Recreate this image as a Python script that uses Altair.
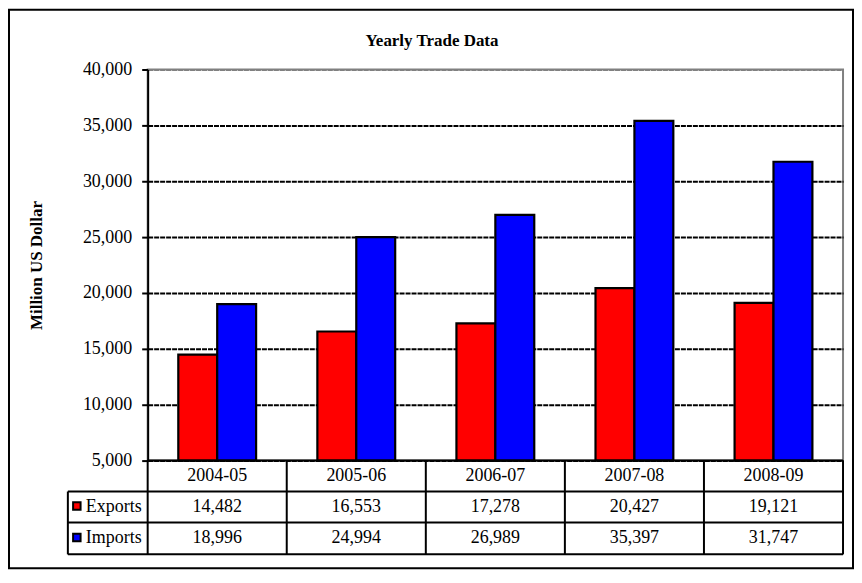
import altair as alt
import pandas as pd

# ---- data ----
categories = ["2004-05", "2005-06", "2006-07", "2007-08", "2008-09"]
exports = [14482, 16553, 17278, 20427, 19121]
imports = [18996, 24994, 26989, 35397, 31747]
series_names = ["Exports", "Imports"]
series_colors = ["#FF0000", "#0000FF"]
y_ticks = [5000, 10000, 15000, 20000, 25000, 30000, 35000, 40000]
chart_title = "Yearly Trade Data"
y_title = "Million US Dollar"

rows = []
for i, c in enumerate(categories):
    rows.append({"cat": c, "series": "Exports", "value": exports[i]})
    rows.append({"cat": c, "series": "Imports", "value": imports[i]})
df = pd.DataFrame(rows)
labels_df = pd.DataFrame({"series": series_names})

FONT = "Liberation Serif"
W, H = 697, 392
ROW_Y = {"header": 407.5, "Exports": 438.5, "Imports": 470}

x_scale = alt.Scale(domain=categories, paddingInner=0, paddingOuter=0)
x_enc = alt.X("cat:N", sort=categories, scale=x_scale, axis=None)
color_scale = alt.Scale(domain=series_names, range=series_colors)
one = alt.Data(values=[{}])

border = alt.Chart(one).mark_rect(fill="white", fillOpacity=0, stroke="black", strokeWidth=2).encode(
    x=alt.value(-139), x2=alt.value(707), y=alt.value(-60), y2=alt.value(500)
)

title = alt.Chart(one).mark_text(
    text=chart_title, font=FONT, fontSize=17, fontWeight="bold", color="black", baseline="middle"
).encode(x=alt.value(285), y=alt.value(-29))

bars = alt.Chart(df).mark_bar(stroke="black", strokeWidth=2.2).encode(
    x=x_enc,
    xOffset=alt.XOffset("series:N", scale=alt.Scale(domain=series_names, paddingInner=0, paddingOuter=0.787)),
    y=alt.Y(
        "value:Q",
        scale=alt.Scale(domain=[5000, 40000], nice=False, zero=False),
        axis=alt.Axis(
            values=y_ticks, format=",.0f",
            labelFont=FONT, labelFontSize=18, labelColor="black", labelPadding=10,
            tickColor="black", tickWidth=2, tickSize=6,
            domainColor="black", domainWidth=2,
            grid=True,
            gridColor={"condition": {"test": "datum.value >= 40000", "value": "#808080"}, "value": "black"},
            gridDash=[5, 1], gridWidth=2,
            title=y_title, titleFont=FONT, titleFontSize=17, titleFontWeight="bold", titleColor="black",
            titleAngle=270, titleX=-111, titleY=196, titleAlign="center", titleBaseline="middle",
        ),
    ),
    y2=alt.Y2(datum=5000),
    fill=alt.Fill("series:N", scale=color_scale, legend=None),
)

# ---- data table below the plot ----
vlines = alt.Chart(df).transform_filter(alt.datum.series == "Exports").mark_rule(
    color="black", strokeWidth=2
).encode(
    x=alt.X("cat:N", sort=categories, scale=x_scale, axis=None, bandPosition=0),
    y=alt.value(392), y2=alt.value(486),
)
right_line = alt.Chart(one).mark_rule(color="black", strokeWidth=2).encode(
    x=alt.value(W), y=alt.value(392), y2=alt.value(486)
)
left_line = alt.Chart(one).mark_rule(color="black", strokeWidth=2).encode(
    x=alt.value(-80), y=alt.value(423), y2=alt.value(486)
)
hlines = [
    alt.Chart(one).mark_rule(color="black", strokeWidth=2).encode(
        x=alt.value(x0), x2=alt.value(W), y=alt.value(yy)
    )
    for x0, yy in [(0, 392), (-80, 423), (-80, 454), (-80, 486)]
]

header = alt.Chart(df).transform_filter(alt.datum.series == "Exports").mark_text(
    font=FONT, fontSize=18, color="black", baseline="middle"
).encode(x=x_enc, y=alt.value(ROW_Y["header"]), text="cat:N")

value_layers = []
for s in series_names:
    value_layers.append(
        alt.Chart(df).transform_filter(alt.datum.series == s).mark_text(
            font=FONT, fontSize=18, color="black", baseline="middle"
        ).encode(x=x_enc, y=alt.value(ROW_Y[s]), text=alt.Text("value:Q", format=",.0f"))
    )
    value_layers.append(
        alt.Chart(labels_df).transform_filter(alt.datum.series == s).mark_text(
            font=FONT, fontSize=18, color="black", baseline="middle", align="left"
        ).encode(x=alt.value(-62), y=alt.value(ROW_Y[s]), text="series:N")
    )
    value_layers.append(
        alt.Chart(labels_df).transform_filter(alt.datum.series == s).mark_square(
            size=56, stroke="black", strokeWidth=2, opacity=1
        ).encode(
            x=alt.value(-71), y=alt.value(ROW_Y[s] - 1),
            fill=alt.Fill("series:N", scale=color_scale, legend=None),
        )
    )

chart = alt.layer(
    border, title, bars, vlines, right_line, left_line, *hlines, header, *value_layers
).properties(
    width=W, height=H, padding=0, background="white"
).configure_view(stroke="#808080", strokeWidth=2)

chart.save("out.html", embed_options={"renderer": "svg", "actions": False})
